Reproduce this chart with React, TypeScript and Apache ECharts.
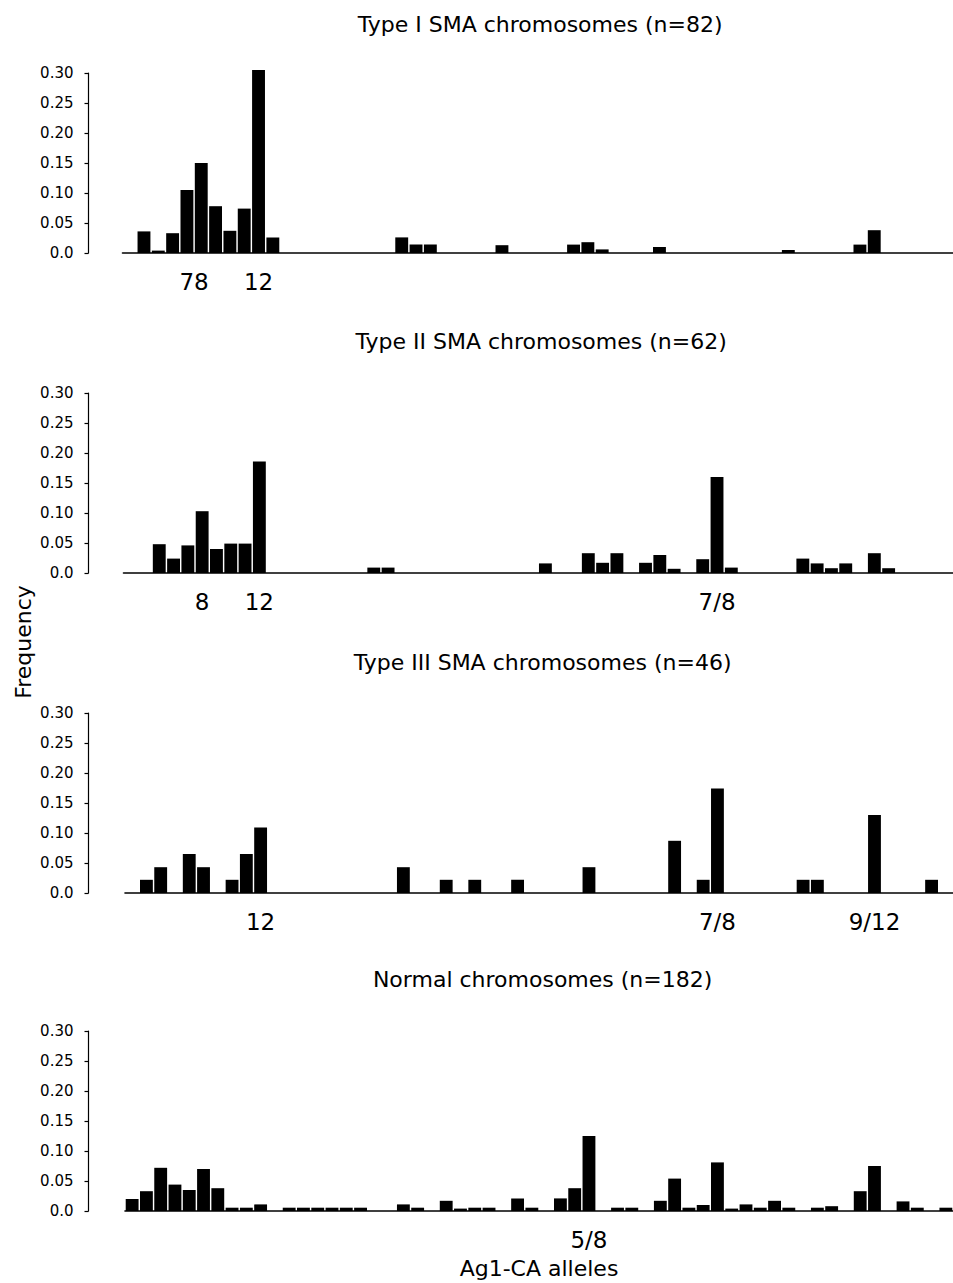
import React, { useEffect, useRef } from "react";
import * as echarts from "echarts";

// ---- data -------------------------------------------------------------
// 58 allele slots along the x axis (category positions)
const SLOT_COUNT = 58;
const slots: string[] = Array.from({ length: SLOT_COUNT }, (_, i) => "s" + i);

const titles = [
  "Type I SMA chromosomes (n=82)",
  "Type II SMA chromosomes (n=62)",
  "Type III SMA chromosomes (n=46)",
  "Normal chromosomes (n=182)",
];

// frequency per slot
const typeI = [
  0, 0.036, 0.004, 0.033, 0.105, 0.150, 0.078, 0.037, 0.074, 0.305,
  0.026, 0, 0, 0, 0, 0, 0, 0, 0, 0.026,
  0.014, 0.014, 0, 0, 0, 0, 0.013, 0, 0, 0,
  0, 0.014, 0.018, 0.006, 0, 0, 0, 0.010, 0, 0,
  0, 0, 0, 0, 0, 0, 0.005, 0, 0, 0,
  0, 0.014, 0.038, 0, 0, 0, 0, 0,
];

const typeII = [
  0, 0, 0.048, 0.024, 0.046, 0.103, 0.040, 0.049, 0.049, 0.186,
  0, 0, 0, 0, 0, 0, 0, 0.009, 0.009, 0,
  0, 0, 0, 0, 0, 0, 0, 0, 0, 0.016,
  0, 0, 0.033, 0.017, 0.033, 0, 0.017, 0.030, 0.007, 0,
  0.023, 0.160, 0.009, 0, 0, 0, 0, 0.024, 0.016, 0.008,
  0.016, 0, 0.033, 0.008, 0, 0, 0, 0,
];

const typeIII = [
  0, 0.022, 0.043, 0, 0.065, 0.043, 0, 0.022, 0.065, 0.109,
  0, 0, 0, 0, 0, 0, 0, 0, 0, 0.043,
  0, 0, 0.022, 0, 0.022, 0, 0, 0.022, 0, 0,
  0, 0, 0.043, 0, 0, 0, 0, 0, 0.087, 0,
  0.022, 0.174, 0, 0, 0, 0, 0, 0.022, 0.022, 0,
  0, 0, 0.130, 0, 0, 0, 0.022, 0,
];

const normal = [
  0.020, 0.033, 0.072, 0.044, 0.035, 0.070, 0.038, 0.0055, 0.0055, 0.011,
  0, 0.0055, 0.0055, 0.0055, 0.0055, 0.0055, 0.0055, 0, 0, 0.011,
  0.0055, 0, 0.017, 0.004, 0.0055, 0.0055, 0, 0.021, 0.0055, 0,
  0.021, 0.038, 0.125, 0, 0.0055, 0.0055, 0, 0.017, 0.054, 0.0055,
  0.010, 0.081, 0.004, 0.011, 0.0055, 0.017, 0.0055, 0, 0.0055, 0.008,
  0, 0.033, 0.075, 0, 0.016, 0.0055, 0, 0.0055,
];

// tick labels: [slot index, label]
const typeITicks: [number, string][] = [[4, "7"], [5, "8"], [9, "12"]];
const typeIITicks: [number, string][] = [[5, "8"], [9, "12"], [41, "7/8"]];
const typeIIITicks: [number, string][] = [[9, "12"], [41, "7/8"], [52, "9/12"]];
const normalTicks: [number, string][] = [[32, "5/8"]];

const yTicks = [0, 0.05, 0.1, 0.15, 0.2, 0.25, 0.3];
const xAxisName = "Ag1-CA alleles";
const yAxisName = "Frequency";

// ---- layout -------------------------------------------------------------
const FONT = '"DejaVu Sans", "Liberation Sans", sans-serif';
const PITCH = 14.4;
const GRID_H = 180;
const gridLefts = [122.5, 123.5, 125, 125];
const gridTops = [73, 393, 713, 1031];
const titleTops = [13, 330, 651, 968];
const Y_AXIS_X = 88.5;

export default function App() {
  const ref = useRef<HTMLDivElement>(null);

  useEffect(() => {
    if (!ref.current) return;
    const chart = echarts.init(ref.current, undefined, { renderer: "svg" });

    const panels = [
      { title: titles[0], values: typeI, ticks: typeITicks },
      { title: titles[1], values: typeII, ticks: typeIITicks },
      { title: titles[2], values: typeIII, ticks: typeIIITicks },
      { title: titles[3], values: normal, ticks: normalTicks },
    ];
    const gridW = PITCH * SLOT_COUNT;

    const option: any = {
      animation: false,
      backgroundColor: "#fff",
      title: panels.map((p, i) => ({
        text: p.title,
        left: gridLefts[i] + gridW / 2,
        top: titleTops[i],
        textAlign: "center",
        padding: 0,
        textStyle: {
          fontSize: 22,
          fontWeight: "normal",
          color: "#000",
          fontFamily: FONT,
        },
      })),
      grid: panels.map((_, i) => ({
        left: gridLefts[i],
        top: gridTops[i],
        width: gridW,
        height: GRID_H,
        containLabel: false,
      })),
      xAxis: panels.map((p, i) => {
        const map: Record<number, string> = {};
        p.ticks.forEach(([idx, lab]) => (map[idx] = lab));
        const ax: any = {
          type: "category",
          gridIndex: i,
          data: slots,
          boundaryGap: true,
          axisLine: { show: true, lineStyle: { color: "#000", width: 1.6 } },
          axisTick: { show: false },
          splitLine: { show: false },
          axisLabel: {
            interval: 0,
            margin: 17,
            color: "#000",
            fontSize: 23,
            fontFamily: FONT,
            formatter: (_v: string, idx: number) => map[idx] ?? "",
          },
        };
        if (i === 3) {
          ax.name = xAxisName;
          ax.nameLocation = "middle";
          ax.nameGap = 46;
          ax.nameTextStyle = { fontSize: 22, color: "#000", fontFamily: FONT };
        }
        return ax;
      }),
      yAxis: panels.map((_, i) => ({
        type: "value",
        gridIndex: i,
        min: yTicks[0],
        max: yTicks[yTicks.length - 1],
        interval: yTicks[1] - yTicks[0],
        offset: gridLefts[i] - Y_AXIS_X,
        axisLine: { show: true, lineStyle: { color: "#000", width: 1.2 } },
        axisTick: { show: true, length: 4, lineStyle: { color: "#000", width: 1.2 } },
        splitLine: { show: false },
        axisLabel: {
          margin: 15,
          color: "#000",
          fontSize: 15,
          fontFamily: FONT,
          formatter: (v: number) => (Math.abs(v) < 1e-9 ? "0.0" : v.toFixed(2)),
        },
      })),
      series: panels.map((p, i) => ({
        type: "bar",
        xAxisIndex: i,
        yAxisIndex: i,
        data: p.values,
        barCategoryGap: "10%",
        itemStyle: { color: "#000" },
        clip: false,
        silent: true,
      })),
      graphic: [
        {
          type: "text",
          x: 23,
          y: 642,
          rotation: Math.PI / 2,
          style: {
            text: yAxisName,
            align: "center",
            verticalAlign: "middle",
            fontSize: 22,
            fontFamily: FONT,
            fill: "#000",
          },
        },
      ],
    };

    chart.setOption(option);
    return () => chart.dispose();
  }, []);

  return (
    <div
      ref={ref}
      style={{ position: "absolute", left: 0, top: 0, width: 953, height: 1283, background: "#fff" }}
    />
  );
}
